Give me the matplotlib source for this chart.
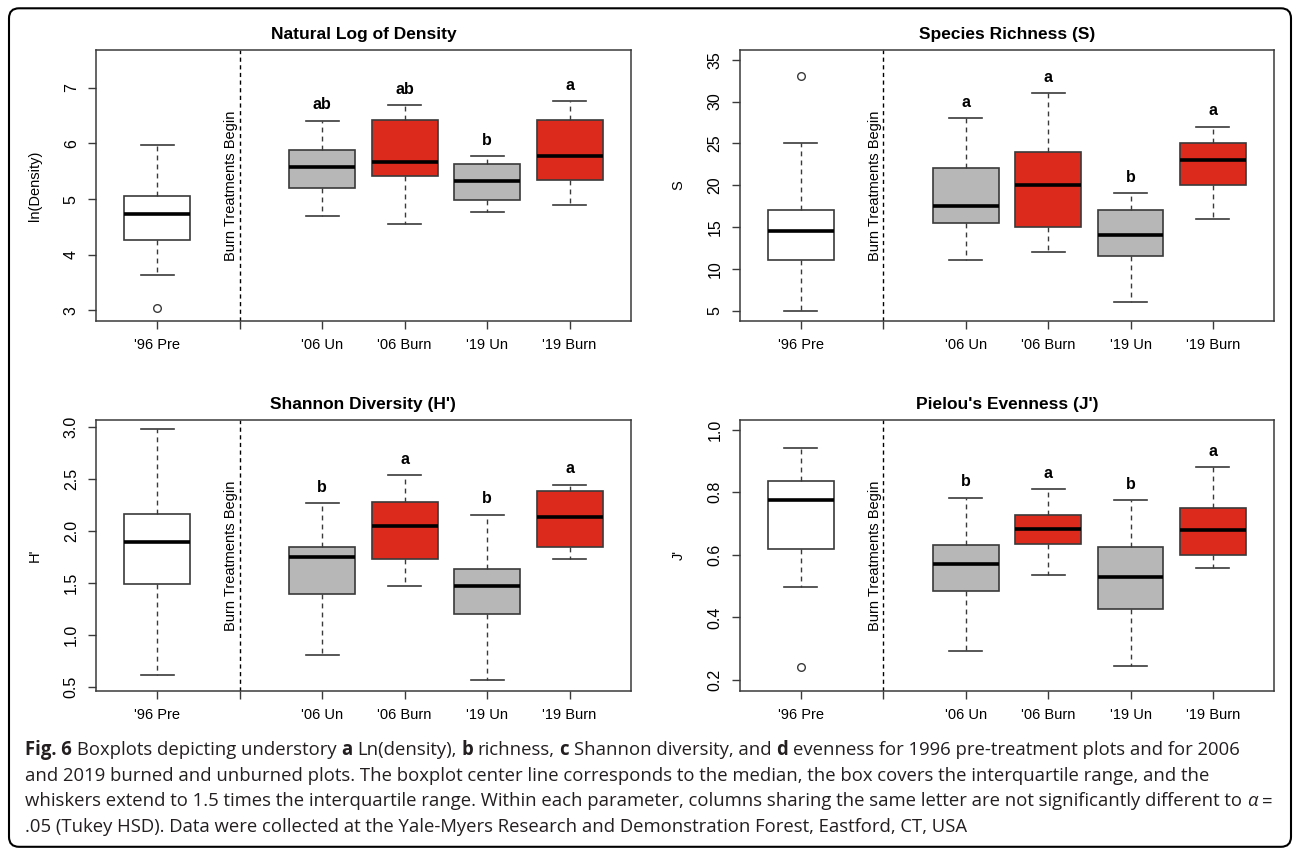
import matplotlib
matplotlib.use('Agg')
import matplotlib.pyplot as plt
from matplotlib.patches import FancyBboxPatch

plt.rcParams['font.family'] = ['Liberation Sans', 'DejaVu Sans']

groups = ["'96 Pre", "'06 Un", "'06 Burn", "'19 Un", "'19 Burn"]

# a: natural log of density
dens_lo = [3.63, 4.70, 4.55, 4.77, 4.90]
dens_q1 = [4.26, 5.20, 5.41, 4.99, 5.34]
dens_med = [4.73, 5.58, 5.66, 5.32, 5.78]
dens_q3 = [5.06, 5.88, 6.43, 5.64, 6.43]
dens_hi = [5.97, 6.41, 6.69, 5.77, 6.76]
dens_out = [[3.05], [], [], [], []]
dens_letters = ['', 'ab', 'ab', 'b', 'a']

# b: species richness
rich_lo = [5, 11, 12, 6, 16]
rich_q1 = [11, 15.5, 15, 11.5, 20]
rich_med = [14.5, 17.5, 20, 14, 23]
rich_q3 = [17, 22, 24, 17, 25]
rich_hi = [25, 28, 31, 19, 27]
rich_out = [[33], [], [], [], []]
rich_letters = ['', 'a', 'a', 'b', 'a']

# c: shannon diversity
shan_lo = [0.62, 0.81, 1.476, 0.567, 1.732]
shan_q1 = [1.49, 1.396, 1.735, 1.20, 1.85]
shan_med = [1.90, 1.755, 2.05, 1.476, 2.135]
shan_q3 = [2.16, 1.85, 2.277, 1.64, 2.385]
shan_hi = [2.978, 2.27, 2.54, 2.158, 2.446]
shan_out = [[], [], [], [], []]
shan_letters = ['', 'b', 'a', 'b', 'a']

# d: pielou evenness
even_lo = [0.498, 0.292, 0.535, 0.245, 0.559]
even_q1 = [0.620, 0.485, 0.634, 0.428, 0.601]
even_med = [0.774, 0.572, 0.684, 0.530, 0.681]
even_q3 = [0.837, 0.632, 0.728, 0.625, 0.751]
even_hi = [0.943, 0.783, 0.810, 0.775, 0.881]
even_out = [[0.241], [], [], [], []]
even_letters = ['', 'b', 'a', 'b', 'a']

fills = ['white', '#b7b7b7', '#dc2a1d', '#b7b7b7', '#dc2a1d']
edge = '#3a3a3a'

fig = plt.figure(figsize=(12.93, 8.48), dpi=100)
W, H = 1293, 848


def px_axes(x0, y0, x1, y1):
    return fig.add_axes([x0 / W, 1 - y1 / H, (x1 - x0) / W, (y1 - y0) / H])


def panel(ax, title, ylabel, lo, q1, med, q3, hi, out, letters, ylim, yticks, ytl):
    pos = [1, 3, 4, 5, 6]
    stats = [dict(whislo=a, q1=b, med=c, q3=d, whishi=e, fliers=f)
             for a, b, c, d, e, f in zip(lo, q1, med, q3, hi, out)]
    res = ax.bxp(stats, positions=pos, widths=0.8, capwidths=0.4, patch_artist=True,
                 boxprops=dict(edgecolor=edge, linewidth=1.2),
                 whiskerprops=dict(color=edge, linewidth=1.0, linestyle=(0, (3.5, 3))),
                 capprops=dict(color=edge, linewidth=1.2),
                 medianprops=dict(color='black', linewidth=2.6, solid_capstyle='butt'),
                 flierprops=dict(marker='o', markerfacecolor='none', markeredgecolor=edge,
                                 markersize=5.5, markeredgewidth=1.0))
    for patch, c in zip(res['boxes'], fills):
        patch.set_facecolor(c)
    ax.axvline(2, color='black', lw=1.0, ls=(0, (3, 2.5)))
    ax.text(1.895, 0.22, 'Burn Treatments Begin', transform=ax.get_xaxis_transform(),
            rotation=90, ha='center', va='bottom', fontsize=10.5)
    span = ylim[1] - ylim[0]
    for p, l, h in zip(pos, letters, hi):
        if l:
            ax.text(p, h + 0.058 * span, l, ha='center', va='center',
                    fontweight='bold', fontsize=11.5)
    ax.set_xlim(0.26, 6.74)
    ax.set_ylim(ylim)
    ax.set_xticks([1, 2, 3, 4, 5, 6])
    ax.set_xticklabels([groups[0], ''] + groups[1:], fontsize=10.5)
    ax.set_yticks(yticks)
    ax.set_yticklabels(ytl, fontsize=11.5, rotation=90, va='center')
    ax.tick_params(length=5.5, width=1.0, color=edge)
    ax.tick_params(axis='x', pad=7)
    ax.tick_params(axis='y', pad=7)
    for s in ax.spines.values():
        s.set_color(edge)
        s.set_linewidth(1.1)
    ax.set_title(title, fontsize=12.5, fontweight='bold', pad=8)
    ax.set_ylabel(ylabel, fontsize=10.5)
    ax.yaxis.set_label_coords(-0.102, 0.5)


ax_a = px_axes(96.2, 50, 630.6, 321)
ax_b = px_axes(740, 50, 1273.9, 321)
ax_c = px_axes(96.2, 420, 630.6, 690.7)
ax_d = px_axes(740, 420, 1273.9, 690.7)

panel(ax_a, 'Natural Log of Density', 'ln(Density)', dens_lo, dens_q1, dens_med, dens_q3,
      dens_hi, dens_out, dens_letters, (2.81, 7.68), [3, 4, 5, 6, 7], ['3', '4', '5', '6', '7'])
panel(ax_b, 'Species Richness (S)', 'S', rich_lo, rich_q1, rich_med, rich_q3,
      rich_hi, rich_out, rich_letters, (3.75, 36.16), [5, 10, 15, 20, 25, 30, 35],
      ['5', '10', '15', '20', '25', '30', '35'])
panel(ax_c, "Shannon Diversity (H')", "H'", shan_lo, shan_q1, shan_med, shan_q3,
      shan_hi, shan_out, shan_letters, (0.467, 3.067), [0.5, 1.0, 1.5, 2.0, 2.5, 3.0],
      ['0.5', '1.0', '1.5', '2.0', '2.5', '3.0'])
panel(ax_d, "Pielou's Evenness (J')", "J'", even_lo, even_q1, even_med, even_q3,
      even_hi, even_out, even_letters, (0.166, 1.031), [0.2, 0.4, 0.6, 0.8, 1.0],
      ['0.2', '0.4', '0.6', '0.8', '1.0'])

# rounded frame around the figure
frame = FancyBboxPatch((0.09, 0.012), 12.82, 8.385, boxstyle='round,pad=0,rounding_size=0.1',
                       transform=fig.dpi_scale_trans, fill=False, lw=1.5, ec='black')
fig.add_artist(frame)

# caption with mixed bold / italic runs
cap_font = ['Open Sans', 'DejaVu Sans']
cap_size = 13.35
cap_color = '#231f20'
caption = [
    [('Fig. 6', 'bold', 'normal'), ('Boxplots depicting understory', 'normal', 'normal'),
     ('a', 'bold', 'normal'), ('Ln(density),', 'normal', 'normal'), ('b', 'bold', 'normal'),
     ('richness,', 'normal', 'normal'), ('c', 'bold', 'normal'),
     ('Shannon diversity, and', 'normal', 'normal'), ('d', 'bold', 'normal'),
     ('evenness for 1996 pre-treatment plots and for 2006', 'normal', 'normal')],
    [('and 2019 burned and unburned plots. The boxplot center line corresponds to the median, '
      'the box covers the interquartile range, and the', 'normal', 'normal')],
    [('whiskers extend to 1.5 times the interquartile range. Within each parameter, columns '
      'sharing the same letter are not significantly different to', 'normal', 'normal'),
     ('α', 'normal', 'italic'), ('=', 'normal', 'normal')],
    [('.05 (Tukey HSD). Data were collected at the Yale-Myers Research and Demonstration '
      'Forest, Eastford, CT, USA', 'normal', 'normal')],
]
baselines = [755, 780.7, 806.4, 832]

renderer = fig.canvas.get_renderer()
t1 = fig.text(0, 0, 'x x', family=cap_font, fontsize=cap_size)
t2 = fig.text(0, 0, 'xx', family=cap_font, fontsize=cap_size)
space_px = t1.get_window_extent(renderer).width - t2.get_window_extent(renderer).width
t1.remove()
t2.remove()

for line, yb in zip(caption, baselines):
    x = 25
    for s, w, st in line:
        t = fig.text(x / W, 1 - yb / H, s, family=cap_font, fontsize=cap_size, fontweight=w,
                     style=st, color=cap_color, ha='left', va='baseline')
        bb = t.get_window_extent(renderer)
        x = bb.x1 + space_px

fig.savefig('out.png', dpi=100)
